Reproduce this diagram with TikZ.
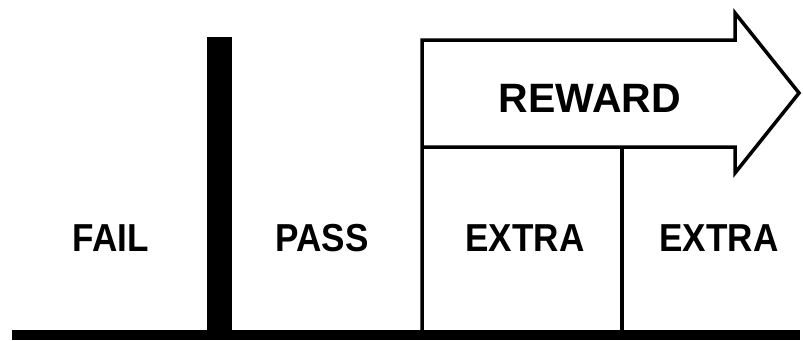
\documentclass[tikz,border=0pt]{standalone}
\usepackage{fontspec}
\usepackage{graphicx}
\setmainfont{Liberation Sans}
\begin{document}
\begin{tikzpicture}[x=1pt,y=-1pt,
  lbl/.style={font=\bfseries\fontsize{39}{39}\selectfont, inner sep=0pt, anchor=base},
  thinline/.style={line width=3.5pt, line join=miter}]
\useasboundingbox (0,0) rectangle (803,340);
% baseline and heavy bar
\fill (12,330) rectangle (800,340);
\fill (207,37) rectangle (232,330);
% arrow
\draw[thinline] (422,330) -- (422,40) -- (735,40) -- (735,13) -- (799,93) -- (735,173) -- (735,147) -- (422,147);
\draw[thinline] (622,147) -- (622,330);
% labels
\node[lbl] (fail) at (111,251) {\scalebox{0.9}[1]{FAIL}};
\node[lbl] (pass) at (322,251) {\scalebox{0.9}[1]{PASS}};
\node[lbl] (extra1) at (525,251) {\scalebox{0.9}[1]{EXTRA}};
\node[lbl] (extra2) at (719,251) {\scalebox{0.9}[1]{EXTRA}};
\node[lbl, font=\bfseries\fontsize{41}{41}\selectfont] (reward) at (590,112) {REWARD};
\end{tikzpicture}
\end{document}
